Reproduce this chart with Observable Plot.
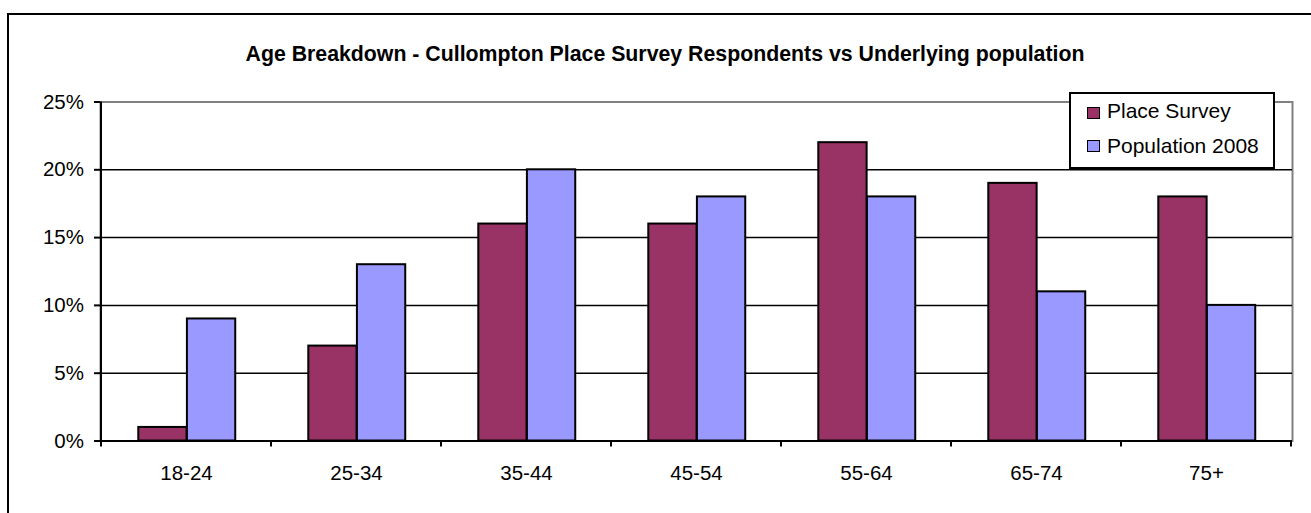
<!DOCTYPE html>
<html><head><meta charset="utf-8">
<script src="https://cdn.jsdelivr.net/npm/d3@7"></script>
<script src="https://cdn.jsdelivr.net/npm/@observablehq/plot@0.6"></script>
<style>
body{margin:0;background:#fff;font-family:"Liberation Sans",Arial,sans-serif;}
#wrap{position:relative;width:1311px;height:513px;overflow:hidden;background:#fff;}
#border{position:absolute;left:7px;top:13px;width:1400px;height:700px;border:2px solid #000;box-sizing:border-box;}
#title{position:absolute;top:44px;left:0;width:1330px;text-align:center;font-weight:bold;font-size:21.3px;line-height:21px;white-space:nowrap;}
#chart{position:absolute;left:0;top:0;}
#legend{position:absolute;left:1069px;top:92px;width:206px;height:77px;border:2px solid #000;box-sizing:border-box;background:#fff;z-index:2;}
.sw{position:absolute;width:13px;height:12px;border:1.5px solid #000;box-sizing:border-box;}
.lt{position:absolute;font-size:21px;line-height:21px;white-space:nowrap;}
</style>
</head><body>
<div id="wrap">
  <div id="border"></div>
  <div id="chart"></div>
  <div id="title"></div>
  <div id="legend"></div>
</div>
<script>
const chartTitle = "Age Breakdown - Cullompton Place Survey Respondents vs Underlying population";
const categories = ["18-24","25-34","35-44","45-54","55-64","65-74","75+"];
const seriesNames = ["Place Survey","Population 2008"];
const seriesColors = ["#993366","#9999FF"];
const placeSurvey = [1,7,16,16,22,19,18];
const population2008 = [9,13,20,18,18,11,10];
const yTicks = [0,5,10,15,20,25];

const rows = categories.flatMap((c,i)=>[
  {age:c, series:seriesNames[0], value:placeSurvey[i]},
  {age:c, series:seriesNames[1], value:population2008[i]}
]);

const W=1311, H=513, mL=100, mR=19, mT=101.5, mB=72.5;
const bw=(W-mL-mR)/categories.length;
const groupInset=0.219*bw, barW=0.2855*bw;

const chart = Plot.plot({
  width:W, height:H, marginLeft:mL, marginRight:mR, marginTop:mT, marginBottom:mB,
  style:{fontFamily:"'Liberation Sans', Arial, sans-serif", fontSize:"20.5px", color:"#000", background:"transparent", overflow:"visible"},
  x:{type:"band", domain:categories, padding:0, label:null},
  y:{domain:[0,25], label:null},
  color:{domain:seriesNames, range:seriesColors},
  marks:[
    Plot.frame({stroke:"#808080", strokeWidth:2}),
    Plot.ruleY(yTicks.filter(t=>t>0&&t<25), {stroke:"#000", strokeWidth:1.5}),
    Plot.barY(rows.filter(d=>d.series===seriesNames[0]), {x:"age", y:"value", fill:"series", stroke:"#000", strokeWidth:2, insetLeft:groupInset, insetRight:bw-groupInset-barW}),
    Plot.barY(rows.filter(d=>d.series===seriesNames[1]), {x:"age", y:"value", fill:"series", stroke:"#000", strokeWidth:2, insetLeft:groupInset+barW, insetRight:bw-groupInset-2*barW}),
    Plot.ruleY([0], {stroke:"#000", strokeWidth:2}),
    Plot.axisY({ticks:yTicks, tickFormat:d=>d+"%", tickSize:6, tickPadding:10.5, stroke:"#000", strokeWidth:2, fontSize:20.5, label:null}),
    Plot.axisX({tickSize:0, tickPadding:24, fontSize:20.5, label:null}),
    (index, scales) => {
      const g = d3.create("svg:g").attr("stroke","#000").attr("stroke-width",2);
      const y0 = scales.y(0), yTop = scales.y(25);
      const xs = categories.map(c=>scales.x(c));
      xs.push(scales.x(categories[categories.length-1]) + scales.x.bandwidth());
      for (const x of xs) g.append("line").attr("x1",x).attr("x2",x).attr("y1",y0).attr("y2",y0+6);
      g.append("line").attr("x1",xs[0]).attr("x2",xs[0]).attr("y1",yTop).attr("y2",y0);
      return g.node();
    }
  ]
});
document.getElementById("chart").appendChild(chart);
document.getElementById("title").textContent = chartTitle;

const legend = document.getElementById("legend");
seriesNames.forEach((name,i)=>{
  const sw = document.createElement("div");
  sw.className="sw"; sw.style.background=seriesColors[i];
  sw.style.left="16px"; sw.style.top=(13+i*33)+"px";
  legend.appendChild(sw);
  const t = document.createElement("div");
  t.className="lt"; t.textContent=name;
  t.style.left="36px"; t.style.top=(6+i*35)+"px";
  legend.appendChild(t);
});
</script>
</body></html>
